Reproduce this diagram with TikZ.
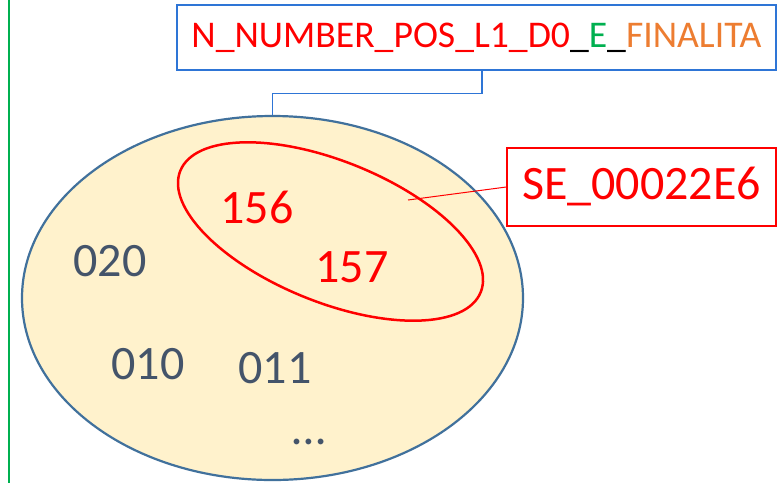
\documentclass[tikz,border=0pt]{standalone}
\usepackage{fontspec}
\setmainfont{Carlito}
\usetikzlibrary{shapes.geometric}
\definecolor{boxblue}{RGB}{46,117,214}
\definecolor{setfill}{RGB}{255,242,204}
\definecolor{setline}{RGB}{65,113,156}
\definecolor{numgray}{RGB}{68,84,106}
\definecolor{offgreen}{RGB}{0,176,80}
\definecolor{offorange}{RGB}{237,125,49}
\definecolor{pure red}{RGB}{255,0,0}
\tikzset{
  numlabel/.style={font=\fontsize{48}{56}\selectfont, text=numgray, inner sep=0pt},
  redlabel/.style={font=\fontsize{48}{56}\selectfont, text=pure red, inner sep=0pt},
}
\begin{document}
\begin{tikzpicture}[x=1pt,y=-1pt]
\fill[white] (0,0) rectangle (781,483);
\useasboundingbox (0,0) rectangle (781,483);
% green margin line
\coordinate (gtop) at (9,0);
\coordinate (gbot) at (9,483);
\draw[offgreen, line width=1.5pt] (gtop) -- (gbot);
% outer set
\node[ellipse, draw=setline, fill=setfill, line width=2.2pt, minimum width=501pt, minimum height=364pt, inner sep=0pt] (outer) at (272.5,298) {};
% title box
\node[draw=boxblue, line width=1.5pt, minimum width=599pt, minimum height=65pt, inner sep=0pt, font=\fontsize{37.7}{44}\selectfont] (title) at (476.5,37.5)
  {\textcolor{pure red}{N\_NUMBER\_POS\_L1\_D0}\textcolor{black}{\_}\textcolor{offgreen}{E}\textcolor{black}{\_}\textcolor{offorange}{FINALITA}};
\draw[boxblue, line width=1.2pt] ([xshift=5.5pt]title.south) -- ++(0,23) -| (outer.north);
% red subset
\node[ellipse, draw=pure red, line width=2.5pt, minimum width=324pt, minimum height=141pt, inner sep=0pt, rotate=-22] (sub) at (330.5,231.5) {};
% numbers
\node[redlabel] (n156) at (257,207) {156};
\node[redlabel] (n157) at (352,267) {157};
\node[numlabel] (n020) at (110,261) {020};
\node[numlabel] (n010) at (148,364) {010};
\node[numlabel] (n011) at (275,368) {011};
\node[numlabel, anchor=base] (ndots) at (309,444) {…};
% SE label
\node[draw=pure red, line width=1.5pt, minimum width=269pt, minimum height=78pt, inner sep=0pt, text=pure red, font=\fontsize{48}{56}\selectfont] (se) at (641.5,187) {SE\_00022E6};
\coordinate (sept) at (408,200);
\draw[pure red, line width=1pt] (se.west) -- (sept);
\end{tikzpicture}
\end{document}
